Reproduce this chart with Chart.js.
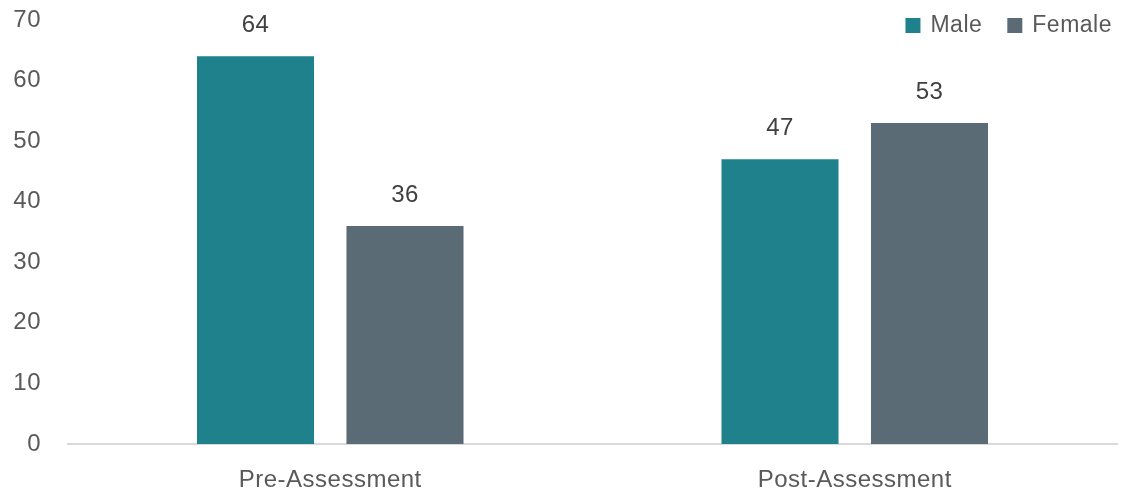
<!DOCTYPE html>
<html>
<head>
<meta charset="utf-8">
<script src="https://cdn.jsdelivr.net/npm/chart.js@4"></script>
<style>
  html, body { margin: 0; padding: 0; background: #fff; }
  #wrap { width: 1121px; height: 492px; }
</style>
</head>
<body>
<div id="wrap"><canvas id="chart" width="1121" height="492"></canvas></div>
<script>
const categories = ['Pre-Assessment', 'Post-Assessment'];
const maleValues = [64, 47];
const femaleValues = [36, 53];
const yTicks = [0, 10, 20, 30, 40, 50, 60, 70];

const FONT = '"Liberation Sans", Arial, sans-serif';

// slight letter spacing, like the original's text
const spacing = {
  id: 'spacing',
  beforeDraw(chart) { chart.ctx.letterSpacing = '0.5px'; }
};

// value labels above each bar
const barLabels = {
  id: 'barLabels',
  afterDatasetsDraw(chart) {
    const ctx = chart.ctx;
    ctx.save();
    ctx.font = '24px ' + FONT;
    ctx.fillStyle = '#404040';
    ctx.textAlign = 'center';
    ctx.textBaseline = 'middle';
    chart.data.datasets.forEach((ds, i) => {
      chart.getDatasetMeta(i).data.forEach((bar, j) => {
        ctx.fillText(ds.data[j], bar.x, bar.y - 31);
      });
    });
    ctx.restore();
  }
};

// legend in the top right corner, drawn over the plot area
const cornerLegend = {
  id: 'cornerLegend',
  afterDraw(chart) {
    const ctx = chart.ctx;
    ctx.save();
    ctx.font = '23px ' + FONT;
    ctx.textBaseline = 'middle';
    const box = 15, gap = 10, itemGap = 25, y = 25.5;
    const items = chart.data.datasets.map(ds => ({
      label: ds.label, color: ds.backgroundColor, w: ctx.measureText(ds.label).width
    }));
    let total = items.reduce((s, it) => s + box + gap + it.w, 0) + itemGap * (items.length - 1);
    let x = chart.chartArea.right - 5 - total;
    items.forEach(it => {
      ctx.fillStyle = it.color;
      ctx.fillRect(x, y - box / 2, box, box);
      x += box + gap;
      ctx.fillStyle = '#595959';
      ctx.fillText(it.label, x, y);
      x += it.w + itemGap;
    });
    ctx.restore();
  }
};

Chart.defaults.font.family = FONT;
Chart.defaults.font.size = 24;
Chart.defaults.color = '#595959';

new Chart(document.getElementById('chart'), {
  type: 'bar',
  data: {
    labels: categories,
    datasets: [
      { label: 'Male', data: maleValues, backgroundColor: '#1e818b' },
      { label: 'Female', data: femaleValues, backgroundColor: '#5b6b75' }
    ]
  },
  options: {
    responsive: false,
    animation: false,
    categoryPercentage: 0.57,
    barPercentage: 0.783,
    layout: { padding: { top: 4, right: 4, left: 12, bottom: 0 } },
    plugins: {
      legend: { display: false },
      tooltip: { enabled: false }
    },
    scales: {
      x: {
        grid: { display: true, drawOnChartArea: false, drawTicks: false },
        border: { display: true, color: '#d9d9d9', width: 2 },
        ticks: { padding: 24, color: '#595959', font: { size: 24, lineHeight: 1 } },
        afterFit(axis) { axis.height = 48; }
      },
      y: {
        min: 0,
        max: 70,
        afterBuildTicks(axis) { axis.ticks = yTicks.map(v => ({ value: v })); },
        grid: { display: false, drawTicks: false },
        border: { display: false },
        ticks: { padding: 27, color: '#595959' },
        afterFit(axis) {
          axis.width = 56;
          axis.paddingTop = 20;
          axis.paddingBottom = 0;
        }
      }
    }
  },
  plugins: [spacing, barLabels, cornerLegend]
});
</script>
</body>
</html>
